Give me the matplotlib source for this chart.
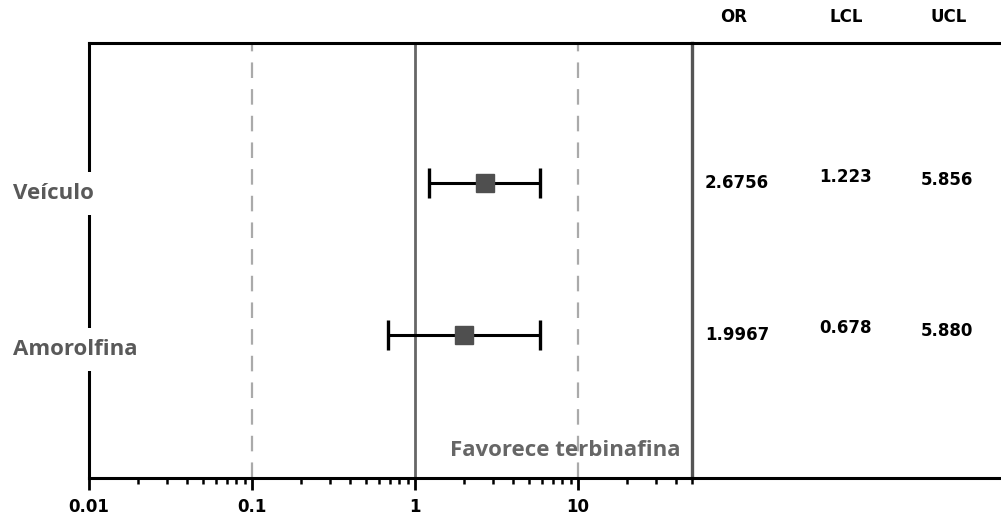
import matplotlib
matplotlib.use("Agg")
import matplotlib.pyplot as plt

# ---- data ----
groups = ["Veículo", "Amorolfina"]
row_pos = [2, 1]
odds_ratio = [2.6756, 1.9967]
lcl = [1.223, 0.678]
ucl = [5.856, 5.880]
or_text = ["2.6756", "1.9967"]
lcl_text = ["1.223", "0.678"]
ucl_text = ["5.856", "5.880"]
col_headers = ["OR", "LCL", "UCL"]
major_ticks = [0.01, 0.1, 1, 10]
major_labels = ["0.01", "0.1", "1", "10"]
favor_label = "Favorece terbinafina"

W, H = 1001, 518
fig = plt.figure(figsize=(W / 100, H / 100), dpi=100)
left, right_plot, top, bottom = 89, 692, 43, 478
ax = fig.add_axes([left / W, (H - bottom) / H, (right_plot - left) / W, (bottom - top) / H])
ax2 = fig.add_axes([right_plot / W, (H - bottom) / H, (W - right_plot) / W, (bottom - top) / H], sharey=ax)
ax2.patch.set_visible(False)

ax.set_xscale("log")
ax.set_xlim(0.01, 50)
ax.set_ylim(0.05, 2.93)

for s in ["top", "bottom", "left"]:
    ax.spines[s].set_linewidth(2.2)
    ax.spines[s].set_color("black")
ax.spines["right"].set_visible(False)

minor = [k * 10 ** e for e in (-2, -1, 0, 1) for k in range(2, 10) if k * 10 ** e <= 50]
ax.set_xticks(major_ticks)
ax.set_xticklabels(major_labels)
ax.set_xticks(minor, minor=True)
ax.xaxis.set_minor_formatter(matplotlib.ticker.NullFormatter())
ax.tick_params(axis="x", which="major", direction="out", length=8.5, width=2.0, pad=6,
               labelsize=12, colors="black")
ax.tick_params(axis="x", which="minor", direction="out", length=4.5, width=1.8)
for lab in ax.get_xticklabels():
    lab.set_fontweight("bold")
ax.set_yticks([])

# reference lines
ax.axvline(1, color="#666666", lw=2.0, zorder=1)
ax.axvline(50, color="#555555", lw=2.4, zorder=1, clip_on=False)
for v in (0.1, 10):
    ax.axvline(v, color="#aaaaaa", lw=1.6, dashes=(7, 5), zorder=1)

# error bars
for y, o, lo, hi in zip(row_pos, odds_ratio, lcl, ucl):
    ax.errorbar([o], [y], xerr=[[o - lo], [hi - o]], fmt="none", ecolor="black",
                elinewidth=2.2, capsize=11, capthick=2.4, zorder=3)
    ax.plot([o], [y], marker="s", markersize=13, color="#4f4f4f", zorder=4, linestyle="none")

# group labels
label_dy = [-7.5, -11]
for y, g, dy in zip(row_pos, groups, label_dy):
    ax.annotate(g, xy=(13 / W, y), xycoords=("figure fraction", "data"),
                xytext=(0, dy), textcoords="offset points", ha="left", va="center",
                fontsize=16, fontweight="bold", color="#595959", family="Open Sans",
                annotation_clip=False, zorder=5,
                bbox=dict(boxstyle="square,pad=0.5", fc="white", ec="none"))

ax.text(680 / W, 1 - 450 / H, favor_label, transform=fig.transFigure, ha="right", va="center",
        fontsize=16, fontweight="bold", color="#666666", family="Open Sans")

# table axes
for s in ["left", "right"]:
    ax2.spines[s].set_visible(False)
for s in ["top", "bottom"]:
    ax2.spines[s].set_linewidth(2.2)
    ax2.spines[s].set_color("black")
ax2.set_xlim(0, 1)
ax2.set_xticks([])
ax2.tick_params(axis="y", left=False, labelleft=False)

col_x = [0.146, 0.497, 0.825]
head_x = [0.134, 0.499, 0.830]
col_dy = [0, 5, 2.5]
for hx, h in zip(head_x, col_headers):
    ax2.text(hx, 1 - 17 / H, h, transform=matplotlib.transforms.blended_transform_factory(ax2.transAxes, fig.transFigure),
             ha="center", va="center", fontsize=12, fontweight="bold", family="DejaVu Sans")
for i, y in enumerate(row_pos):
    for cx, dy, txt in zip(col_x, col_dy, [or_text[i], lcl_text[i], ucl_text[i]]):
        ax2.annotate(txt, xy=(cx, y), xycoords=("axes fraction", "data"), xytext=(0, dy),
                     textcoords="offset points", ha="center", va="center",
                     fontsize=12, fontweight="bold", family="DejaVu Sans")

fig.savefig("out.png", dpi=100)
